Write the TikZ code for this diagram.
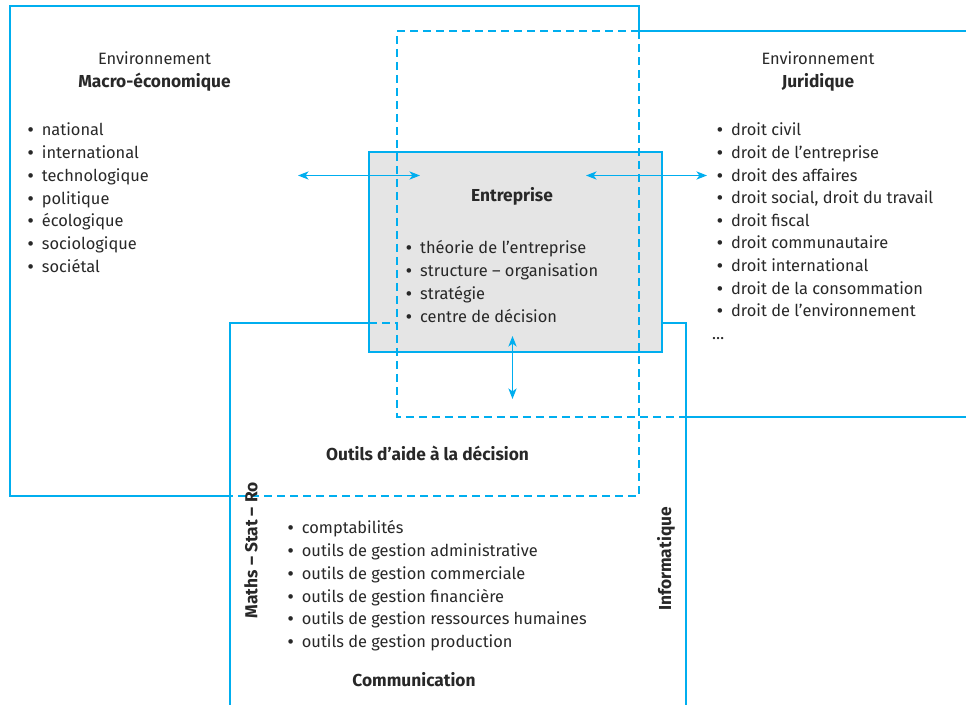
\documentclass[tikz,border=0pt]{standalone}
\usepackage{fontspec}
\setmainfont{Fira Sans}
\usetikzlibrary{arrows.meta}
\definecolor{bleu}{RGB}{0,174,239}
\definecolor{texte}{RGB}{40,40,40}
\definecolor{fond}{RGB}{229,229,229}
\newcommand\puce{\makebox[11.9pt][l]{\bfseries •}}

\begin{document}
\begin{tikzpicture}[x=0.03cm, y=-0.03cm, font=\fontsize{14}{17}\selectfont, text=texte,
  trait/.style={bleu, line width=1.4pt},
  tirets/.style={trait, dash pattern=on 6.8pt off 4.3pt},
  fleche/.style={bleu, line width=1.2pt, <->, >={Stealth[length=9pt, width=7pt, inset=2.5pt]}},
  item/.style={anchor=base west, inner sep=0},
  titre/.style={anchor=base, inner sep=0, font=\fontsize{14.8}{17}\selectfont\bfseries},
  chapeau/.style={anchor=base, inner sep=0}]
\useasboundingbox (0,0) rectangle (966,705);
\filldraw[fill=fond, draw=bleu, line width=1.4pt] (369.3,151.7) rectangle (662.3,351.7);
\draw[trait] (639,31)--(639,6)--(10,6)--(10,496)--(230,496);
\draw[trait] (639,31)--(966,31);
\draw[trait] (686,416.7)--(966,416.7);
\draw[trait] (230,705)--(230,323.3)--(369.3,323.3);
\draw[trait] (662.3,323.3)--(686,323.3)--(686,705);
\draw[tirets] (639,31)--(639,496)--(230,496);
\draw[tirets] (639,31)--(396.7,31)--(396.7,416.7)--(686,416.7);
\draw[tirets] (369.3,323.3)--(396.7,323.3);
\coordinate (g1) at (298,175.5);
\coordinate (g2) at (420,175.5);
\coordinate (d1) at (586,175.5);
\coordinate (d2) at (707,175.5);
\coordinate (b1) at (512.5,336);
\coordinate (b2) at (512.5,399);
\draw[fleche] (g1)--(g2);
\draw[fleche] (d1)--(d2);
\draw[fleche] (b1)--(b2);
\node[chapeau] (envmacro) at (154.5,65) {Environnement};
\node[titre] (macro) at (154.5,87.3) {Macro-économique};
\node[chapeau] (envjur) at (818,65) {Environnement};
\node[titre] (juridique) at (818,87.3) {Juridique};
\node[titre] (entreprise) at (512,201.7) {Entreprise};
\node[titre] (outils) at (427.5,460) {Outils d’aide à la décision};
\node[titre] (communication) at (414,686) {Communication};
\node[titre, rotate=90] (maths) at (257.3,550.3) {Maths – Stat – Ro};
\node[titre, rotate=90] (informatique) at (671,559) {Informatique};
\foreach \t [count=\i from 0] in {national, international, technologique, politique, écologique, sociologique, sociétal}
  \node[item] (macro\i) at (27.7,136+22.7*\i) {\puce\t};
\foreach \t [count=\i from 0] in {droit civil, droit de l’entreprise, droit des affaires, {droit social, droit du travail}, droit fiscal, droit communautaire, droit international, droit de la consommation, droit de l’environnement}
  \node[item] (jur\i) at (717,136+22.6*\i) {\puce\t};
\node[item] (suite) at (712,339) {…};
\foreach \t [count=\i from 0] in {théorie de l’entreprise, structure – organisation, stratégie, centre de décision}
  \node[item] (ent\i) at (406,254+22.9*\i) {\puce\t};
\foreach \t [count=\i from 0] in {comptabilités, outils de gestion administrative, outils de gestion commerciale, outils de gestion financière, outils de gestion ressources humaines, outils de gestion production}
  \node[item] (out\i) at (287.7,533.3+22.9*\i) {\puce\t};
\end{tikzpicture}
\end{document}
